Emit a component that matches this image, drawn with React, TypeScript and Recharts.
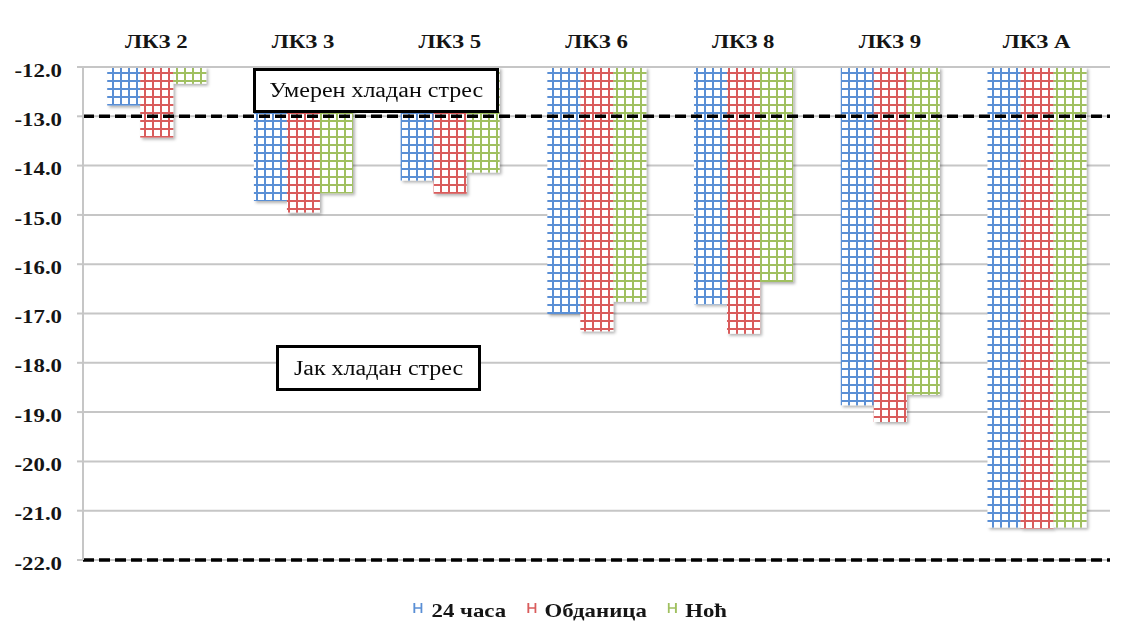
import React from 'react';
import { BarChart, Bar, XAxis, YAxis, CartesianGrid, ReferenceLine, Legend } from 'recharts';

const categories = ['ЛКЗ 2', 'ЛКЗ 3', 'ЛКЗ 5', 'ЛКЗ 6', 'ЛКЗ 8', 'ЛКЗ 9', 'ЛКЗ А'];
const hours24 = [-12.78, -14.72, -14.3, -17.01, -16.81, -18.86, -21.34];
const daytime = [-13.43, -14.95, -14.57, -17.36, -17.41, -19.2, -21.36];
const night = [-12.34, -14.56, -14.14, -16.76, -16.36, -18.65, -21.34];
const yTicks = [-12, -13, -14, -15, -16, -17, -18, -19, -20, -21, -22];
const seriesNames = ['24 часа', 'Обданица', 'Ноћ'];
const stressLevels = [-13, -22];
const stressLabels = ['Умерен хладан стрес', 'Јак хладан стрес'];

const data = categories.map((name, i) => ({
  name,
  h24: hours24[i],
  day: daytime[i],
  night: night[i],
}));

const series = [
  { key: 'h24', name: seriesNames[0], color: '#5a8fd5', pattern: 'gridBlue' },
  { key: 'day', name: seriesNames[1], color: '#d95c5c', pattern: 'gridRed' },
  { key: 'night', name: seriesNames[2], color: '#a0c060', pattern: 'gridGreen' },
];

const font = "'Liberation Serif', 'Times New Roman', serif";
const textColor = '#151515';
const gridColor = '#c6c6c6';
const stretch = 1.2;

const YTick = (props: any) => {
  const { x, y, payload } = props;
  return (
    <g transform={`translate(${x},${y + 3})`}>
      <text
        transform={`scale(${stretch},1)`}
        textAnchor="end"
        dy="0.35em"
        fontFamily={font}
        fontSize={19}
        fontWeight="bold"
        fill={textColor}
      >
        {Number(payload.value).toFixed(1)}
      </text>
    </g>
  );
};

const XTick = (props: any) => {
  const { x, y, payload } = props;
  return (
    <g transform={`translate(${x},${y})`}>
      <text
        transform={`scale(${stretch},1)`}
        textAnchor="middle"
        fontFamily={font}
        fontSize={19}
        fontWeight="bold"
        fill={textColor}
      >
        {payload.value}
      </text>
    </g>
  );
};

const renderLegend = () => (
  <div
    style={{
      display: 'flex',
      justifyContent: 'center',
      transform: `scaleX(${stretch})`,
      transformOrigin: 'center',
      fontFamily: font,
      fontSize: 19,
      fontWeight: 'bold',
      color: textColor,
      lineHeight: '22px',
    }}
  >
    {series.map((s) => (
      <div key={s.key} style={{ display: 'flex', alignItems: 'center', marginRight: 17 }}>
        <svg width={8} height={12} style={{ marginRight: 7, marginTop: -6 }}>
          <path d="M1 1V11M7 1V11M1 6H7" stroke={s.color} strokeWidth={1.6} fill="none" />
        </svg>
        <span>{s.name}</span>
      </div>
    ))}
  </div>
);

const boxStyle = (left: number, top: number, width: number, height: number): React.CSSProperties => ({
  position: 'absolute',
  left,
  top,
  width,
  height,
  boxSizing: 'border-box',
  border: '3px solid #000',
  background: '#fff',
  display: 'flex',
  alignItems: 'center',
  justifyContent: 'center',
  fontFamily: font,
  fontSize: 20,
  color: '#0a0a0a',
});

const App: React.FC = () => {
  document.body.style.margin = '0';
  return (
    <div style={{ position: 'relative', width: 1125, height: 624, background: '#fff' }}>
      <svg width={0} height={0} style={{ position: 'absolute' }}>
        <defs>
          {series.map((s) => (
            <pattern key={s.pattern} id={s.pattern} width={8} height={8} patternUnits="userSpaceOnUse">
              <rect width={8} height={8} fill="#fff" />
              <rect x={0} y={0} width={2} height={8} fill={s.color} />
              <rect x={0} y={0} width={8} height={2} fill={s.color} />
            </pattern>
          ))}
          <filter id="barShadow" x="-10%" y="-10%" width="130%" height="130%">
            <feDropShadow dx={2} dy={2} stdDeviation={1.5} floodColor="#000" floodOpacity={0.3} />
          </filter>
        </defs>
      </svg>
      <BarChart
        width={1125}
        height={624}
        data={data}
        margin={{ top: 0, right: 15, bottom: 64, left: 0 }}
        barCategoryGap="16.5%"
        barGap={0}
      >
        <CartesianGrid vertical={false} stroke={gridColor} strokeWidth={2} />
        <XAxis
          dataKey="name"
          orientation="top"
          height={67}
          axisLine={{ stroke: gridColor, strokeWidth: 2 }}
          tickLine={false}
          tickSize={0}
          tickMargin={19}
          tick={<XTick />}
          interval={0}
        />
        <YAxis
          type="number"
          domain={[-22, -12]}
          ticks={yTicks}
          width={83}
          axisLine={{ stroke: gridColor, strokeWidth: 2 }}
          tickLine={{ stroke: gridColor, strokeWidth: 2 }}
          tickSize={6}
          tickMargin={15}
          tick={<YTick />}
          interval={0}
        />
        {series.map((s) => (
          <Bar
            key={s.key}
            dataKey={s.key}
            name={s.name}
            fill={`url(#${s.pattern})`}
            filter="url(#barShadow)"
            isAnimationActive={false}
          />
        ))}
        {stressLevels.map((v) => (
          <ReferenceLine key={v} y={v} stroke="#000" strokeWidth={3.5} strokeDasharray="11 5" />
        ))}
        <Legend
          verticalAlign="middle"
          align="center"
          layout="horizontal"
          content={renderLegend}
          wrapperStyle={{ top: 600, left: 18, width: 1125 }}
        />
      </BarChart>
      <div style={boxStyle(253, 68, 246, 45)}>
        <span style={{ display: 'inline-block', transform: `scaleX(${stretch})` }}>{stressLabels[0]}</span>
      </div>
      <div style={boxStyle(276, 345, 205, 46)}>
        <span style={{ display: 'inline-block', transform: `scaleX(${stretch})` }}>{stressLabels[1]}</span>
      </div>
    </div>
  );
};

export default App;
